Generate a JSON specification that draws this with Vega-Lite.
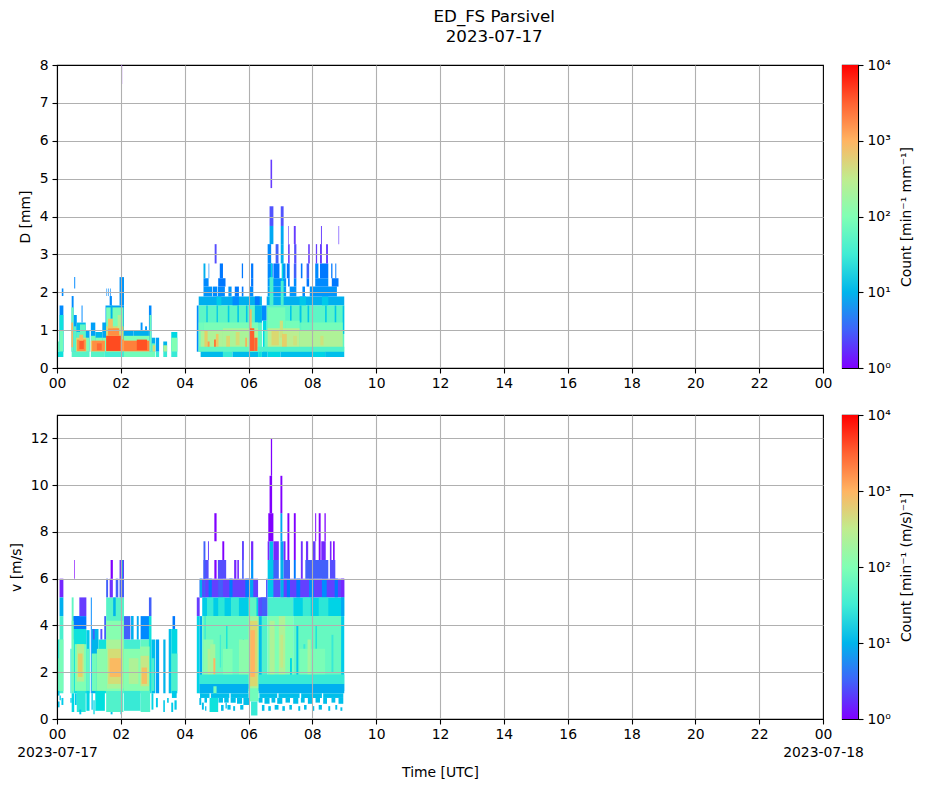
{"$schema":"https://vega.github.io/schema/vega-lite/v6.json","padding":{"left":8,"top":8,"right":5,"bottom":5},"background":"white","title":{"text":["ED_FS Parsivel","2023-07-17"],"fontSize":16.7,"fontWeight":"normal","font":"DejaVu Sans","anchor":"middle","lineHeight":20,"offset":12,"dx":33,"color":"black"},"config":{"font":"DejaVu Sans","view":{"stroke":"black","strokeWidth":1.1},"axis":{"labelFont":"DejaVu Sans","titleFont":"DejaVu Sans","labelFontSize":13.9,"titleFontSize":13.9,"titleFontWeight":"normal","labelColor":"black","titleColor":"black","tickColor":"black","tickSize":5,"tickWidth":1.1,"domain":true,"domainColor":"black","domainWidth":1.1,"labelFlush":false,"labelOverlap":false}},"bounds":"flush","align":"each","columns":2,"spacing":{"row":47,"column":19},"concat":[{"width":766,"height":303,"data":{"values":[
{"t":0.08,"e":0.2,"y":0.43,"z":1.65,"c":5},{"t":0.15,"e":0.2,"y":1.9,"z":2.1,"c":5},{"t":0.46,"e":0.52,"y":0.43,"z":1.9,"c":5},{"t":0.54,"e":0.57,"y":2.1,"z":2.4,"c":5},{"t":0.52,"e":0.62,"y":0.43,"z":1.4,"c":7},{"t":0.62,"e":0.9,"y":0.43,"z":1.2,"c":12},{"t":0.77,"e":0.8,"y":1.2,"z":1.65,"c":5},{"t":0.9,"e":1.02,"y":0.43,"z":1.0,"c":8},{"t":1.06,"e":1.2,"y":0.43,"z":1.2,"c":7},{"t":1.2,"e":1.42,"y":0.43,"z":0.95,"c":10},{"t":1.42,"e":1.54,"y":0.43,"z":1.2,"c":8},{"t":1.52,"e":2.1,"y":0.43,"z":1.65,"c":7},{"t":1.55,"e":1.57,"y":1.9,"z":2.1,"c":5},{"t":1.61,"e":1.63,"y":1.9,"z":2.1,"c":5},{"t":1.67,"e":1.69,"y":1.9,"z":2.1,"c":5},{"t":1.65,"e":1.72,"y":1.65,"z":1.9,"c":5},{"t":1.96,"e":2.1,"y":1.65,"z":2.4,"c":6},{"t":2.1,"e":2.4,"y":0.43,"z":1.0,"c":8},{"t":2.4,"e":2.88,"y":0.43,"z":1.0,"c":9},{"t":2.62,"e":2.68,"y":1.0,"z":1.2,"c":6},{"t":2.76,"e":2.82,"y":1.0,"z":1.1,"c":6},{"t":2.88,"e":2.96,"y":0.43,"z":1.65,"c":5},{"t":2.96,"e":3.08,"y":0.43,"z":0.8,"c":9},{"t":3.1,"e":3.2,"y":0.43,"z":0.8,"c":7},{"t":3.33,"e":3.45,"y":0.43,"z":0.7,"c":10},{"t":3.58,"e":3.77,"y":0.43,"z":0.95,"c":20},
{"t":0,"e":0.08,"y":0.43,"z":0.7,"c":70},{"t":0.08,"e":0.2,"y":0.43,"z":1.4,"c":25},{"t":0.08,"e":0.2,"y":0.43,"z":1.0,"c":80},{"t":0.45,"e":0.52,"y":0.43,"z":1.6,"c":70},{"t":0.52,"e":0.6,"y":0.43,"z":1.1,"c":50},{"t":0.6,"e":0.72,"y":0.43,"z":0.95,"c":50},{"t":0.72,"e":0.9,"y":0.43,"z":1.15,"c":60},{"t":0.9,"e":1.02,"y":0.43,"z":0.8,"c":90},{"t":1.06,"e":1.2,"y":0.43,"z":0.85,"c":90},{"t":1.2,"e":1.42,"y":0.43,"z":0.8,"c":100},{"t":1.42,"e":1.54,"y":0.43,"z":0.8,"c":100},{"t":1.54,"e":2.08,"y":0.43,"z":1.6,"c":90},{"t":1.68,"e":1.74,"y":1.3,"z":1.65,"c":10},{"t":2.1,"e":2.9,"y":0.43,"z":0.85,"c":100},{"t":2.9,"e":2.96,"y":0.43,"z":1.4,"c":70},{"t":2.96,"e":3.08,"y":0.43,"z":0.65,"c":60},{"t":3.58,"e":3.77,"y":0.43,"z":0.8,"c":100},{"t":3.33,"e":3.45,"y":0.43,"z":0.6,"c":200},
{"t":0.45,"e":0.5,"y":0.55,"z":1.2,"c":1000},{"t":0.6,"e":0.92,"y":0.43,"z":0.8,"c":500},{"t":1.06,"e":1.5,"y":0.43,"z":0.72,"c":700},{"t":1.54,"e":2.08,"y":0.43,"z":1.1,"c":500},{"t":1.9,"e":2.0,"y":0.9,"z":1.4,"c":250},{"t":2.1,"e":2.9,"y":0.43,"z":0.72,"c":900},{"t":3.0,"e":3.08,"y":0.43,"z":0.6,"c":500},
{"t":0.63,"e":0.9,"y":0.45,"z":0.75,"c":1800},{"t":0.7,"e":0.84,"y":0.5,"z":0.72,"c":3600},{"t":0.7,"e":0.82,"y":0.72,"z":0.88,"c":1000},{"t":1.1,"e":1.5,"y":0.45,"z":0.72,"c":1800},{"t":1.25,"e":1.4,"y":0.47,"z":0.65,"c":3000},{"t":1.54,"e":2.0,"y":0.45,"z":0.85,"c":5000},{"t":1.6,"e":1.95,"y":0.85,"z":1.05,"c":1800},{"t":1.6,"e":1.75,"y":1.05,"z":1.3,"c":800},{"t":2.1,"e":2.88,"y":0.45,"z":0.72,"c":2200},{"t":2.5,"e":2.82,"y":0.47,"z":0.75,"c":4500},{"t":2.0,"e":2.1,"y":0.45,"z":0.75,"c":1500},
{"t":0,"e":0.2,"y":0.29,"z":0.43,"c":25},{"t":0.46,"e":1.02,"y":0.29,"z":0.43,"c":50},{"t":1.06,"e":1.5,"y":0.29,"z":0.43,"c":50},{"t":1.5,"e":2.1,"y":0.29,"z":0.43,"c":35},{"t":2.1,"e":3.08,"y":0.29,"z":0.43,"c":80},{"t":3.1,"e":3.2,"y":0.29,"z":0.43,"c":30},{"t":3.33,"e":3.45,"y":0.29,"z":0.43,"c":30},{"t":3.58,"e":3.77,"y":0.29,"z":0.43,"c":30},
{"t":2.01,"e":2.04,"y":7.5,"z":8,"c":1},
{"t":4.38,"e":4.44,"y":0.43,"z":1.65,"c":5},{"t":4.44,"e":6.42,"y":1.65,"z":1.89,"c":9},{"t":6.57,"e":9,"y":1.65,"z":1.89,"c":9},{"t":5,"e":5.15,"y":1.65,"z":1.89,"c":15},{"t":5.5,"e":5.7,"y":1.65,"z":1.89,"c":5},{"t":6.2,"e":6.35,"y":1.65,"z":1.89,"c":4},{"t":7.6,"e":7.8,"y":1.65,"z":1.89,"c":14},{"t":8.3,"e":8.5,"y":1.65,"z":1.89,"c":15},
{"t":4.59,"e":4.86,"y":1.89,"z":2.15,"c":6},{"t":4.88,"e":5.02,"y":1.89,"z":2.15,"c":5},{"t":5.04,"e":5.26,"y":1.89,"z":2.15,"c":5},{"t":5.37,"e":5.47,"y":1.89,"z":2.15,"c":6},{"t":5.57,"e":5.7,"y":1.89,"z":2.15,"c":4},{"t":5.79,"e":5.84,"y":1.89,"z":2.15,"c":4},{"t":6.02,"e":6.15,"y":1.89,"z":2.15,"c":5},{"t":6.6,"e":7.18,"y":1.89,"z":2.15,"c":7},{"t":7.29,"e":7.5,"y":1.89,"z":2.15,"c":6},{"t":7.69,"e":7.77,"y":1.89,"z":2.15,"c":5},{"t":7.92,"e":8.77,"y":1.89,"z":2.15,"c":6},
{"t":4.59,"e":4.75,"y":2.15,"z":2.37,"c":5},{"t":5.05,"e":5.28,"y":2.15,"z":2.37,"c":4},{"t":6.08,"e":6.15,"y":2.15,"z":2.37,"c":4},{"t":6.6,"e":7.18,"y":2.15,"z":2.37,"c":6},{"t":7.24,"e":7.29,"y":2.15,"z":2.37,"c":4},{"t":7.42,"e":7.5,"y":2.15,"z":2.37,"c":5},{"t":7.82,"e":7.9,"y":2.15,"z":2.37,"c":4},{"t":8.09,"e":8.5,"y":2.15,"z":2.37,"c":5},{"t":8.61,"e":8.82,"y":2.15,"z":2.37,"c":4},
{"t":4.59,"e":4.65,"y":2.37,"z":2.76,"c":9},{"t":4.75,"e":4.77,"y":2.37,"z":2.76,"c":5},{"t":5.1,"e":5.2,"y":2.37,"z":2.76,"c":4},{"t":5.79,"e":5.83,"y":2.37,"z":2.76,"c":4},{"t":6.08,"e":6.15,"y":2.37,"z":2.76,"c":4},{"t":6.6,"e":6.76,"y":2.37,"z":2.76,"c":5},{"t":6.78,"e":6.97,"y":2.37,"z":2.76,"c":4},{"t":7.06,"e":7.16,"y":2.37,"z":2.76,"c":6},{"t":7.2,"e":7.29,"y":2.37,"z":2.76,"c":4},{"t":7.42,"e":7.5,"y":2.37,"z":2.76,"c":3},{"t":7.64,"e":7.69,"y":2.37,"z":2.76,"c":4},{"t":7.82,"e":7.9,"y":2.37,"z":2.76,"c":3},{"t":8.09,"e":8.19,"y":2.37,"z":2.76,"c":5},{"t":8.24,"e":8.5,"y":2.37,"z":2.76,"c":4},{"t":8.59,"e":8.63,"y":2.37,"z":2.76,"c":4},{"t":8.72,"e":8.75,"y":2.37,"z":2.76,"c":4},
{"t":4.94,"e":5,"y":2.76,"z":3.27,"c":2},{"t":6.6,"e":6.71,"y":2.76,"z":3.27,"c":5},{"t":6.85,"e":6.94,"y":2.76,"z":3.27,"c":3},{"t":7.01,"e":7.1,"y":2.76,"z":3.27,"c":9},{"t":7.24,"e":7.29,"y":2.76,"z":3.27,"c":1.5},{"t":7.43,"e":7.5,"y":2.76,"z":3.27,"c":2},{"t":7.87,"e":7.92,"y":2.76,"z":3.27,"c":1.5},{"t":8.11,"e":8.15,"y":2.76,"z":3.27,"c":1.5},{"t":8.24,"e":8.3,"y":2.76,"z":3.27,"c":1.5},{"t":8.43,"e":8.49,"y":2.76,"z":3.27,"c":1.5},
{"t":6.66,"e":6.78,"y":3.27,"z":3.75,"c":8},{"t":7.01,"e":7.1,"y":3.27,"z":3.75,"c":8},{"t":7.24,"e":7.26,"y":3.27,"z":3.75,"c":1.5},{"t":7.42,"e":7.48,"y":3.27,"z":3.75,"c":1.5},{"t":8.27,"e":8.3,"y":3.27,"z":3.75,"c":1.5},{"t":8.82,"e":8.84,"y":3.27,"z":3.75,"c":1.5},{"t":6.66,"e":6.78,"y":3.75,"z":4.27,"c":2.2},{"t":7.01,"e":7.1,"y":3.75,"z":4.27,"c":2.2},{"t":6.69,"e":6.74,"y":4.75,"z":5.5,"c":1.5},
{"t":4.44,"e":6.42,"y":0.43,"z":1.65,"c":55},{"t":6.45,"e":6.57,"y":0.43,"z":1.25,"c":20},{"t":6.42,"e":6.57,"y":1.25,"z":1.65,"c":5},{"t":6.57,"e":9,"y":0.43,"z":1.65,"c":55},{"t":6.66,"e":6.78,"y":1.65,"z":2.4,"c":40},{"t":7.01,"e":7.1,"y":1.65,"z":2.3,"c":40},{"t":6.7,"e":6.74,"y":2.4,"z":2.76,"c":20},{"t":7.04,"e":7.08,"y":2.3,"z":2.76,"c":20},
{"t":4.68,"e":4.72,"y":1.2,"z":1.65,"c":14},{"t":5,"e":5.04,"y":1.2,"z":1.65,"c":14},{"t":5.35,"e":5.4,"y":1.2,"z":1.65,"c":16},{"t":5.65,"e":5.7,"y":1.2,"z":1.65,"c":14},{"t":5.92,"e":5.97,"y":1.2,"z":1.65,"c":14},{"t":6.2,"e":6.42,"y":1.2,"z":1.65,"c":10},{"t":7.3,"e":7.35,"y":1.2,"z":1.65,"c":14},{"t":7.6,"e":7.66,"y":1.2,"z":1.65,"c":14},{"t":7.85,"e":7.9,"y":1.2,"z":1.65,"c":14},{"t":8.4,"e":8.45,"y":1.2,"z":1.65,"c":16},{"t":8.7,"e":8.75,"y":1.2,"z":1.65,"c":14},{"t":8.95,"e":9,"y":0.9,"z":1.65,"c":14},
{"t":4.44,"e":4.6,"y":0.43,"z":1.2,"c":80},{"t":4.6,"e":6.3,"y":0.43,"z":1.2,"c":90},{"t":6.35,"e":6.42,"y":0.43,"z":0.9,"c":60},{"t":6.5,"e":6.6,"y":0.43,"z":1.0,"c":70},{"t":6.6,"e":7.15,"y":0.43,"z":1.6,"c":85},{"t":7.15,"e":7.6,"y":0.43,"z":1.25,"c":85},{"t":7.65,"e":8.0,"y":0.43,"z":1.2,"c":70},{"t":8.0,"e":8.95,"y":0.43,"z":1.2,"c":85},
{"t":4.5,"e":5.2,"y":0.55,"z":1.0,"c":220},{"t":5.2,"e":6.3,"y":0.55,"z":1.05,"c":200},{"t":6.6,"e":7.6,"y":0.55,"z":1.05,"c":280},{"t":7.6,"e":8.95,"y":0.55,"z":1.0,"c":220},{"t":6.98,"e":7.08,"y":0.8,"z":1.25,"c":400},
{"t":4.62,"e":4.72,"y":0.55,"z":1.0,"c":600},{"t":4.72,"e":4.78,"y":0.45,"z":0.7,"c":1500},{"t":4.92,"e":4.98,"y":0.45,"z":0.75,"c":2500},{"t":4.98,"e":5.06,"y":0.5,"z":0.9,"c":700},{"t":5.3,"e":5.42,"y":0.55,"z":0.85,"c":500},{"t":5.6,"e":5.72,"y":0.6,"z":0.95,"c":450},{"t":5.9,"e":5.95,"y":0.45,"z":0.8,"c":1200},{"t":6.02,"e":6.1,"y":0.45,"z":1.55,"c":900},{"t":6.04,"e":6.18,"y":0.45,"z":1.05,"c":3500},{"t":6.18,"e":6.28,"y":0.45,"z":0.8,"c":3000},{"t":6.72,"e":6.95,"y":0.6,"z":1.0,"c":500},{"t":7.05,"e":7.2,"y":0.55,"z":0.9,"c":600},{"t":7.4,"e":7.52,"y":0.6,"z":0.85,"c":400},{"t":8.25,"e":8.35,"y":0.6,"z":0.85,"c":400},
{"t":4.44,"e":6.0,"y":0.43,"z":0.56,"c":60},{"t":6.3,"e":9,"y":0.43,"z":0.56,"c":45},{"t":4.5,"e":5.2,"y":0.29,"z":0.43,"c":11},{"t":5.2,"e":5.5,"y":0.29,"z":0.43,"c":30},{"t":5.5,"e":6.3,"y":0.29,"z":0.43,"c":11},{"t":6.3,"e":6.42,"y":0.29,"z":0.43,"c":25},{"t":6.42,"e":6.6,"y":0.29,"z":0.43,"c":12},{"t":6.6,"e":7.0,"y":0.29,"z":0.43,"c":20},{"t":7.0,"e":8.0,"y":0.29,"z":0.43,"c":12},{"t":8.0,"e":8.4,"y":0.29,"z":0.43,"c":18},{"t":8.4,"e":9,"y":0.29,"z":0.43,"c":12}
]},"mark":{"type":"rect","strokeWidth":0},"encoding":{"x":{"field":"t","type":"quantitative","scale":{"domain":[0,24],"nice":false},"axis":{"title":null,"values":[0,2,4,6,8,10,12,14,16,18,20,22,24],"labelExpr":"datum.value==24?'00':(datum.value<10?'0':'')+datum.value","grid":true,"gridColor":"#b0b0b0","gridWidth":1.1,"gridOpacity":{"condition":{"test":"datum.value==0||datum.value==24","value":0},"value":1},"zindex":1,"labelPadding":3}},"x2":{"field":"e"},"y":{"field":"y","type":"quantitative","scale":{"domain":[0,8],"nice":false},"axis":{"title":"D [mm]","values":[0,1,2,3,4,5,6,7,8],"grid":true,"gridColor":"#b0b0b0","gridWidth":1.1,"gridOpacity":{"condition":{"test":"datum.value==0||datum.value==8","value":0},"value":1},"zindex":1,"titlePadding":7,"labelPadding":4}},"y2":{"field":"z"},"color":{"field":"c","type":"quantitative","legend":null,"scale":{"type":"log","domain":[1,10000],"range":["#8000ff","#4062fa","#00b5eb","#40ecd4","#80ffb4","#c0ec8e","#ffb462","#ff6232","#ff0000"]}}}},{"width":16,"height":303,"data":{"values":[{"lo":1,"hi":10000}]},"mark":{"type":"rect","fill":{"gradient":"linear","x1":0,"y1":1,"x2":0,"y2":0,"stops":[{"offset":0,"color":"#8000ff"},{"offset":0.125,"color":"#4062fa"},{"offset":0.25,"color":"#00b5eb"},{"offset":0.375,"color":"#40ecd4"},{"offset":0.5,"color":"#80ffb4"},{"offset":0.625,"color":"#c0ec8e"},{"offset":0.75,"color":"#ffb462"},{"offset":0.875,"color":"#ff6232"},{"offset":1,"color":"#ff0000"}]}},"encoding":{"y":{"field":"lo","type":"quantitative","scale":{"type":"log","domain":[1,10000],"nice":false},"axis":{"orient":"right","title":"Count [min⁻¹ mm⁻¹]","titleAngle":270,"titleBaseline":"top","values":[1,10,100,1000,10000],"grid":false,"labelExpr":"datum.value==1?'10⁰':datum.value==10?'10¹':datum.value==100?'10²':datum.value==1000?'10³':'10⁴'","titlePadding":9,"labelPadding":4}},"y2":{"field":"hi"}}},
{"width":766,"height":304,"data":{"values":[
{"t":0.08,"e":0.2,"y":5.2,"z":6,"c":1.2},{"t":0.08,"e":0.2,"y":4.4,"z":5.2,"c":9},{"t":0,"e":0.08,"y":1.1,"z":3.4,"c":30},{"t":0.08,"e":0.2,"y":1.1,"z":4.4,"c":40},{"t":0.42,"e":0.46,"y":1.1,"z":3,"c":30},{"t":0.46,"e":0.52,"y":1.1,"z":5.2,"c":60},{"t":0.54,"e":0.56,"y":6,"z":6.8,"c":1},{"t":0.52,"e":0.7,"y":3.4,"z":4.4,"c":5},{"t":0.7,"e":0.92,"y":4.4,"z":5.2,"c":1.5},{"t":0.52,"e":0.92,"y":3.85,"z":4.4,"c":4},{"t":0.52,"e":0.92,"y":1.1,"z":3.85,"c":25},{"t":0.92,"e":1.02,"y":1.1,"z":3.8,"c":15},{"t":1.06,"e":1.09,"y":1.1,"z":5.2,"c":5},{"t":1.09,"e":1.3,"y":1.1,"z":3.85,"c":10},{"t":1.12,"e":1.18,"y":3.4,"z":3.85,"c":3},{"t":1.3,"e":1.54,"y":1.1,"z":3.4,"c":25},{"t":1.36,"e":1.42,"y":3.4,"z":3.85,"c":2},{"t":1.48,"e":1.54,"y":3.4,"z":4.4,"c":3},{"t":1.54,"e":2.1,"y":1.1,"z":5.2,"c":50},{"t":1.54,"e":1.6,"y":5.2,"z":6,"c":3},{"t":1.65,"e":1.75,"y":5.2,"z":6,"c":1.3},{"t":1.68,"e":1.75,"y":6,"z":6.8,"c":1},{"t":1.76,"e":1.84,"y":4.4,"z":5.2,"c":10},{"t":1.84,"e":1.92,"y":5.2,"z":6,"c":3},{"t":1.96,"e":2.1,"y":5.2,"z":6,"c":3},{"t":1.96,"e":2.1,"y":6,"z":6.8,"c":1.5},{"t":2.02,"e":2.06,"y":6,"z":6.8,"c":10},{"t":2.1,"e":2.3,"y":3.4,"z":4.4,"c":3},{"t":2.1,"e":2.62,"y":1.1,"z":3.4,"c":35},{"t":2.32,"e":2.4,"y":3.4,"z":4.4,"c":9},{"t":2.5,"e":2.56,"y":3.4,"z":4.4,"c":8},{"t":2.62,"e":2.9,"y":3.4,"z":4.4,"c":5},{"t":2.62,"e":2.9,"y":1.1,"z":3.4,"c":60},{"t":2.88,"e":2.96,"y":4.4,"z":5.2,"c":3},{"t":2.88,"e":2.96,"y":1.1,"z":4.4,"c":25},{"t":2.96,"e":3.08,"y":1.1,"z":3.4,"c":12},{"t":3.1,"e":3.2,"y":1.1,"z":3.4,"c":7},{"t":3.33,"e":3.4,"y":1.1,"z":3.4,"c":10},{"t":3.5,"e":3.58,"y":1.1,"z":3.85,"c":12},{"t":3.58,"e":3.77,"y":1.1,"z":3.85,"c":20},{"t":3.62,"e":3.7,"y":3.85,"z":4.4,"c":4},
{"t":0,"e":0.08,"y":1.2,"z":2.6,"c":70},{"t":0.08,"e":0.2,"y":1.2,"z":3.4,"c":90},{"t":0.46,"e":0.52,"y":1.2,"z":4.2,"c":80},{"t":0.56,"e":0.92,"y":1.2,"z":3.2,"c":100},{"t":0.62,"e":0.85,"y":1.6,"z":3.2,"c":250},{"t":0.66,"e":0.8,"y":1.8,"z":2.8,"c":600},{"t":0.92,"e":1.02,"y":1.2,"z":3,"c":60},{"t":1.09,"e":1.25,"y":1.2,"z":2.8,"c":80},{"t":1.25,"e":1.54,"y":1.2,"z":3,"c":120},{"t":1.54,"e":2.08,"y":1.2,"z":4.2,"c":110},{"t":1.56,"e":2.08,"y":1.3,"z":3.4,"c":200},{"t":1.6,"e":2.05,"y":1.5,"z":3,"c":450},{"t":1.65,"e":2.0,"y":1.8,"z":2.6,"c":900},{"t":2.1,"e":2.6,"y":1.2,"z":3,"c":110},{"t":2.25,"e":2.55,"y":1.5,"z":2.6,"c":220},{"t":2.6,"e":2.9,"y":1.2,"z":3.1,"c":130},{"t":2.62,"e":2.88,"y":1.4,"z":2.7,"c":350},{"t":2.65,"e":2.82,"y":1.5,"z":2.2,"c":800},{"t":2.96,"e":3.05,"y":1.2,"z":2.6,"c":40},{"t":3.58,"e":3.77,"y":1.2,"z":2.8,"c":40},
{"t":0,"e":0.08,"y":1,"z":1.2,"c":15},{"t":0.03,"e":0.08,"y":0.5,"z":0.75,"c":14},{"t":0.08,"e":0.12,"y":0.8,"z":1,"c":16},{"t":0.14,"e":0.2,"y":0.6,"z":0.9,"c":15},{"t":0.42,"e":0.46,"y":0.7,"z":0.9,"c":15},{"t":0.46,"e":0.54,"y":0.3,"z":1.1,"c":20},{"t":0.56,"e":0.62,"y":0.6,"z":1.1,"c":16},{"t":0.62,"e":0.9,"y":0.3,"z":1.2,"c":28},{"t":0.7,"e":0.76,"y":0.2,"z":0.4,"c":14},{"t":0.92,"e":1.02,"y":0.35,"z":1.2,"c":20},{"t":1.08,"e":1.12,"y":0.4,"z":1.1,"c":15},{"t":1.14,"e":1.18,"y":0.2,"z":0.8,"c":20},{"t":1.2,"e":1.5,"y":0.35,"z":1.2,"c":24},{"t":1.54,"e":2.08,"y":0.3,"z":1.2,"c":45},{"t":1.68,"e":1.74,"y":0.2,"z":0.3,"c":14},{"t":1.99,"e":2.03,"y":0.2,"z":0.3,"c":14},{"t":2.1,"e":2.62,"y":0.35,"z":1.2,"c":30},{"t":2.62,"e":2.92,"y":0.3,"z":1.2,"c":45},{"t":2.96,"e":3.02,"y":0.4,"z":1.1,"c":18},{"t":3.1,"e":3.16,"y":0.5,"z":0.9,"c":15},{"t":3.33,"e":3.38,"y":0.3,"z":0.8,"c":15},{"t":3.45,"e":3.5,"y":0.7,"z":0.9,"c":15},{"t":3.58,"e":3.64,"y":0.3,"z":0.7,"c":15},{"t":3.68,"e":3.75,"y":0.4,"z":0.8,"c":15},{"t":3.6,"e":3.75,"y":0.9,"z":1.2,"c":15},
{"t":4.38,"e":4.47,"y":4.4,"z":5.2,"c":1.5},{"t":4.38,"e":4.47,"y":1.1,"z":4.4,"c":18},{"t":4.47,"e":6.3,"y":5.2,"z":6,"c":1.6},{"t":4.47,"e":4.55,"y":5.2,"z":6,"c":9},{"t":4.59,"e":4.65,"y":5.2,"z":6,"c":3},{"t":4.75,"e":4.85,"y":5.2,"z":6,"c":4},{"t":5.05,"e":5.2,"y":5.2,"z":6,"c":3},{"t":5.4,"e":5.5,"y":5.2,"z":6,"c":4},{"t":5.9,"e":6.02,"y":5.2,"z":6,"c":4},{"t":6.02,"e":6.15,"y":5.2,"z":6,"c":8},{"t":4.59,"e":4.75,"y":6,"z":6.8,"c":2},{"t":4.59,"e":4.65,"y":6,"z":7.6,"c":3},{"t":4.73,"e":4.76,"y":6.8,"z":7.6,"c":1.5},{"t":4.93,"e":5,"y":7.6,"z":8.8,"c":1},{"t":4.93,"e":5,"y":6,"z":6.8,"c":1},{"t":5.04,"e":5.3,"y":6,"z":6.8,"c":2},{"t":5.18,"e":5.24,"y":6.8,"z":7.6,"c":1},{"t":5.55,"e":5.62,"y":6,"z":6.8,"c":1.2},{"t":5.65,"e":5.7,"y":6,"z":6.8,"c":1.2},{"t":5.8,"e":5.85,"y":6,"z":7.6,"c":3},{"t":5.8,"e":5.85,"y":6.8,"z":7.6,"c":1.5},{"t":6.08,"e":6.15,"y":6,"z":6.8,"c":6},{"t":6.08,"e":6.15,"y":6.8,"z":7.6,"c":1.2},{"t":6.38,"e":6.57,"y":4.4,"z":5.2,"c":2},{"t":6.55,"e":6.6,"y":5.2,"z":6,"c":2},{"t":6.6,"e":6.8,"y":5.2,"z":6.8,"c":15},{"t":6.6,"e":6.66,"y":6.8,"z":7.6,"c":1.2},{"t":6.66,"e":6.78,"y":6.8,"z":7.6,"c":12},{"t":6.62,"e":6.78,"y":7.6,"z":8.8,"c":1},{"t":6.66,"e":6.74,"y":8.8,"z":10.4,"c":1},{"t":6.7,"e":6.74,"y":10.4,"z":12,"c":1},{"t":6.78,"e":7,"y":5.2,"z":6,"c":2},{"t":6.78,"e":6.95,"y":6,"z":6.8,"c":3},{"t":6.78,"e":6.95,"y":6.8,"z":7.6,"c":1.2},{"t":7,"e":9,"y":5.2,"z":6,"c":1.6},{"t":7,"e":7.1,"y":5.2,"z":6.8,"c":10},{"t":7.2,"e":7.3,"y":5.2,"z":6,"c":4},{"t":7.5,"e":7.62,"y":5.2,"z":6,"c":4},{"t":7.9,"e":8.05,"y":5.2,"z":6,"c":5},{"t":8.3,"e":8.45,"y":5.2,"z":6,"c":5},{"t":8.7,"e":8.8,"y":5.2,"z":6,"c":4},{"t":8.9,"e":9,"y":5.2,"z":6,"c":1.2},{"t":7,"e":7.1,"y":6.8,"z":7.6,"c":8},{"t":7,"e":7.06,"y":7.6,"z":8.8,"c":8},{"t":7,"e":7.06,"y":8.8,"z":10.4,"c":1},{"t":7.1,"e":7.3,"y":6,"z":6.8,"c":3},{"t":7.1,"e":7.16,"y":6.8,"z":7.6,"c":1.2},{"t":7.22,"e":7.28,"y":6.8,"z":8.8,"c":1},{"t":7.42,"e":7.48,"y":6,"z":6.8,"c":4},{"t":7.42,"e":7.48,"y":6.8,"z":8.8,"c":1},{"t":7.64,"e":7.7,"y":6,"z":7.6,"c":1.3},{"t":7.78,"e":8.5,"y":6,"z":6.8,"c":3},{"t":7.8,"e":7.87,"y":6.8,"z":7.6,"c":1.3},{"t":8.02,"e":8.1,"y":6.8,"z":7.6,"c":1.5},{"t":8.09,"e":8.12,"y":7.6,"z":8.8,"c":1},{"t":8.2,"e":8.26,"y":6.8,"z":8.8,"c":1},{"t":8.28,"e":8.42,"y":6.8,"z":7.6,"c":1.2},{"t":8.38,"e":8.42,"y":7.6,"z":8.8,"c":1},{"t":8.55,"e":8.6,"y":6.8,"z":7.6,"c":1.2},{"t":8.65,"e":8.7,"y":6.8,"z":7.6,"c":1},{"t":8.55,"e":8.72,"y":6,"z":6.8,"c":2},{"t":6.3,"e":6.42,"y":4.4,"z":5.2,"c":2},
{"t":4.47,"e":4.55,"y":1.1,"z":4.4,"c":8},{"t":4.55,"e":6.3,"y":4.4,"z":5.2,"c":16},{"t":4.7,"e":4.9,"y":4.4,"z":5.2,"c":30},{"t":5.05,"e":5.25,"y":4.4,"z":5.2,"c":28},{"t":5.45,"e":5.7,"y":4.4,"z":5.2,"c":30},{"t":6,"e":6.25,"y":4.4,"z":5.2,"c":60},{"t":6.42,"e":6.6,"y":4.4,"z":5.2,"c":3},{"t":6.6,"e":7.4,"y":4.4,"z":5.2,"c":40},{"t":7.4,"e":9,"y":4.4,"z":5.2,"c":18},{"t":7.7,"e":7.95,"y":4.4,"z":5.2,"c":30},{"t":8.2,"e":8.5,"y":4.4,"z":5.2,"c":28},{"t":8.9,"e":9,"y":4.4,"z":5.2,"c":8},
{"t":4.55,"e":6.3,"y":1.2,"z":4.4,"c":70},{"t":6.3,"e":6.42,"y":1.2,"z":4.4,"c":12},{"t":6.42,"e":6.6,"y":1.2,"z":4.4,"c":45},{"t":6.6,"e":7.4,"y":1.2,"z":4.4,"c":100},{"t":7.4,"e":8.9,"y":1.2,"z":4.4,"c":65},{"t":8.9,"e":9,"y":1.2,"z":4.4,"c":16},{"t":7.5,"e":7.56,"y":1.2,"z":4,"c":14},{"t":7.3,"e":7.36,"y":1.2,"z":2.6,"c":20},{"t":5.3,"e":5.34,"y":2,"z":4,"c":25},{"t":5.82,"e":5.86,"y":2,"z":3.4,"c":25},{"t":8.1,"e":8.14,"y":1.4,"z":4,"c":25},{"t":4.62,"e":4.66,"y":2.4,"z":4.4,"c":30},{"t":5.1,"e":5.14,"y":2.2,"z":3.6,"c":35},{"t":7.72,"e":7.78,"y":1.6,"z":3.2,"c":30},{"t":8.6,"e":8.66,"y":2,"z":3.6,"c":30},
{"t":4.58,"e":4.9,"y":1.5,"z":3.4,"c":120},{"t":4.72,"e":4.82,"y":1.6,"z":3,"c":250},{"t":4.8,"e":4.96,"y":1.5,"z":3.2,"c":180},{"t":4.9,"e":4.96,"y":1.9,"z":2.6,"c":1000},{"t":5.2,"e":5.5,"y":1.5,"z":3,"c":100},{"t":5.7,"e":6,"y":1.5,"z":3.4,"c":120},{"t":6,"e":6.32,"y":1.3,"z":4.4,"c":180},{"t":6.04,"e":6.28,"y":1.4,"z":4.2,"c":500},{"t":6.06,"e":6.2,"y":1.8,"z":3.8,"c":1000},{"t":6.66,"e":6.82,"y":1.5,"z":4.2,"c":220},{"t":6.95,"e":7.15,"y":1.5,"z":4.4,"c":220},{"t":7,"e":7.08,"y":2.2,"z":3.6,"c":350},{"t":7.6,"e":8.4,"y":1.6,"z":3,"c":90},{"t":7.85,"e":7.95,"y":1.6,"z":3.4,"c":180},
{"t":4.47,"e":6,"y":1.5,"z":1.9,"c":30},{"t":4.47,"e":6,"y":1.1,"z":1.5,"c":9},{"t":6,"e":6.32,"y":0.75,"z":1.3,"c":80},{"t":6.32,"e":9,"y":1.5,"z":1.9,"c":30},{"t":6.32,"e":9,"y":1.1,"z":1.5,"c":9},{"t":4.9,"e":5,"y":0.6,"z":1.4,"c":90},{"t":4.78,"e":5.05,"y":0.3,"z":0.9,"c":25},{"t":6.08,"e":6.28,"y":0.15,"z":0.75,"c":30},
{"t":4.48,"e":4.78,"y":0.9,"z":1.1,"c":12},{"t":4.82,"e":5.4,"y":0.9,"z":1.1,"c":12},{"t":5.44,"e":6,"y":0.9,"z":1.1,"c":12},{"t":6.34,"e":6.9,"y":0.9,"z":1.1,"c":12},{"t":6.94,"e":7.6,"y":0.9,"z":1.1,"c":12},{"t":7.65,"e":8.3,"y":0.9,"z":1.1,"c":12},{"t":8.34,"e":8.97,"y":0.9,"z":1.1,"c":12},
{"t":4.46,"e":4.52,"y":0.6,"z":0.9,"c":12},{"t":4.54,"e":4.6,"y":0.4,"z":0.7,"c":12},{"t":4.62,"e":4.7,"y":0.7,"z":0.9,"c":12},{"t":4.64,"e":4.68,"y":0.35,"z":0.55,"c":12},{"t":5.06,"e":5.2,"y":0.7,"z":0.9,"c":12},{"t":5.14,"e":5.22,"y":0.35,"z":0.6,"c":12},{"t":5.24,"e":5.38,"y":0.7,"z":0.9,"c":12},{"t":5.28,"e":5.32,"y":0.45,"z":0.7,"c":12},{"t":5.34,"e":5.44,"y":0.4,"z":0.6,"c":12},{"t":5.44,"e":5.6,"y":0.7,"z":0.9,"c":12},{"t":5.52,"e":5.58,"y":0.35,"z":0.55,"c":12},{"t":5.64,"e":5.8,"y":0.65,"z":0.9,"c":12},{"t":5.74,"e":5.84,"y":0.4,"z":0.6,"c":12},{"t":5.84,"e":6.04,"y":0.6,"z":0.9,"c":12},{"t":6.32,"e":6.44,"y":0.7,"z":0.9,"c":12},{"t":6.42,"e":6.5,"y":0.35,"z":0.6,"c":12},{"t":6.5,"e":6.66,"y":0.65,"z":0.9,"c":12},{"t":6.62,"e":6.7,"y":0.35,"z":0.55,"c":12},{"t":6.72,"e":6.84,"y":0.7,"z":0.9,"c":12},{"t":6.82,"e":6.94,"y":0.4,"z":0.6,"c":12},{"t":6.9,"e":7.06,"y":0.65,"z":0.9,"c":12},{"t":7.06,"e":7.14,"y":0.35,"z":0.55,"c":12},{"t":7.16,"e":7.3,"y":0.7,"z":0.9,"c":12},{"t":7.28,"e":7.36,"y":0.4,"z":0.6,"c":12},{"t":7.4,"e":7.56,"y":0.65,"z":0.9,"c":12},{"t":7.56,"e":7.62,"y":0.35,"z":0.55,"c":12},{"t":7.64,"e":7.76,"y":0.7,"z":0.9,"c":12},{"t":7.74,"e":7.82,"y":0.4,"z":0.6,"c":12},{"t":7.86,"e":8,"y":0.65,"z":0.9,"c":12},{"t":8,"e":8.06,"y":0.35,"z":0.55,"c":12},{"t":8.1,"e":8.24,"y":0.7,"z":0.9,"c":12},{"t":8.2,"e":8.3,"y":0.4,"z":0.6,"c":12},{"t":8.34,"e":8.46,"y":0.65,"z":0.9,"c":12},{"t":8.5,"e":8.56,"y":0.35,"z":0.55,"c":12},{"t":8.6,"e":8.72,"y":0.7,"z":0.9,"c":12},{"t":8.72,"e":8.78,"y":0.4,"z":0.6,"c":12},{"t":8.82,"e":8.97,"y":0.65,"z":0.9,"c":12},{"t":8.88,"e":8.94,"y":0.35,"z":0.5,"c":12}
]},"mark":{"type":"rect","strokeWidth":0},"encoding":{"x":{"field":"t","type":"quantitative","scale":{"domain":[0,24],"nice":false},"axis":{"title":"Time [UTC]","titlePadding":7,"values":[0,2,4,6,8,10,12,14,16,18,20,22,24],"labelExpr":"datum.value==0?['00','2023-07-17']:datum.value==24?['00','2023-07-18']:(datum.value<10?'0':'')+datum.value","grid":true,"gridColor":"#b0b0b0","gridWidth":1.1,"gridOpacity":{"condition":{"test":"datum.value==0||datum.value==24","value":0},"value":1},"zindex":1,"labelPadding":3,"labelLineHeight":18}},"x2":{"field":"e"},"y":{"field":"y","type":"quantitative","scale":{"domain":[0,13],"nice":false},"axis":{"title":"v [m/s]","values":[0,2,4,6,8,10,12],"grid":true,"gridColor":"#b0b0b0","gridWidth":1.1,"gridOpacity":{"condition":{"test":"datum.value==0","value":0},"value":1},"zindex":1,"titlePadding":7,"labelPadding":4}},"y2":{"field":"z"},"color":{"field":"c","type":"quantitative","legend":null,"scale":{"type":"log","domain":[1,10000],"range":["#8000ff","#4062fa","#00b5eb","#40ecd4","#80ffb4","#c0ec8e","#ffb462","#ff6232","#ff0000"]}}}},{"width":16,"height":304,"data":{"values":[{"lo":1,"hi":10000}]},"mark":{"type":"rect","fill":{"gradient":"linear","x1":0,"y1":1,"x2":0,"y2":0,"stops":[{"offset":0,"color":"#8000ff"},{"offset":0.125,"color":"#4062fa"},{"offset":0.25,"color":"#00b5eb"},{"offset":0.375,"color":"#40ecd4"},{"offset":0.5,"color":"#80ffb4"},{"offset":0.625,"color":"#c0ec8e"},{"offset":0.75,"color":"#ffb462"},{"offset":0.875,"color":"#ff6232"},{"offset":1,"color":"#ff0000"}]}},"encoding":{"y":{"field":"lo","type":"quantitative","scale":{"type":"log","domain":[1,10000],"nice":false},"axis":{"orient":"right","title":"Count [min⁻¹ (m/s)⁻¹]","titleAngle":270,"titleBaseline":"top","values":[1,10,100,1000,10000],"grid":false,"labelExpr":"datum.value==1?'10⁰':datum.value==10?'10¹':datum.value==100?'10²':datum.value==1000?'10³':'10⁴'","titlePadding":9,"labelPadding":4}},"y2":{"field":"hi"}}}],"resolve":{"scale":{"color":"independent","x":"independent","y":"independent"}}}
